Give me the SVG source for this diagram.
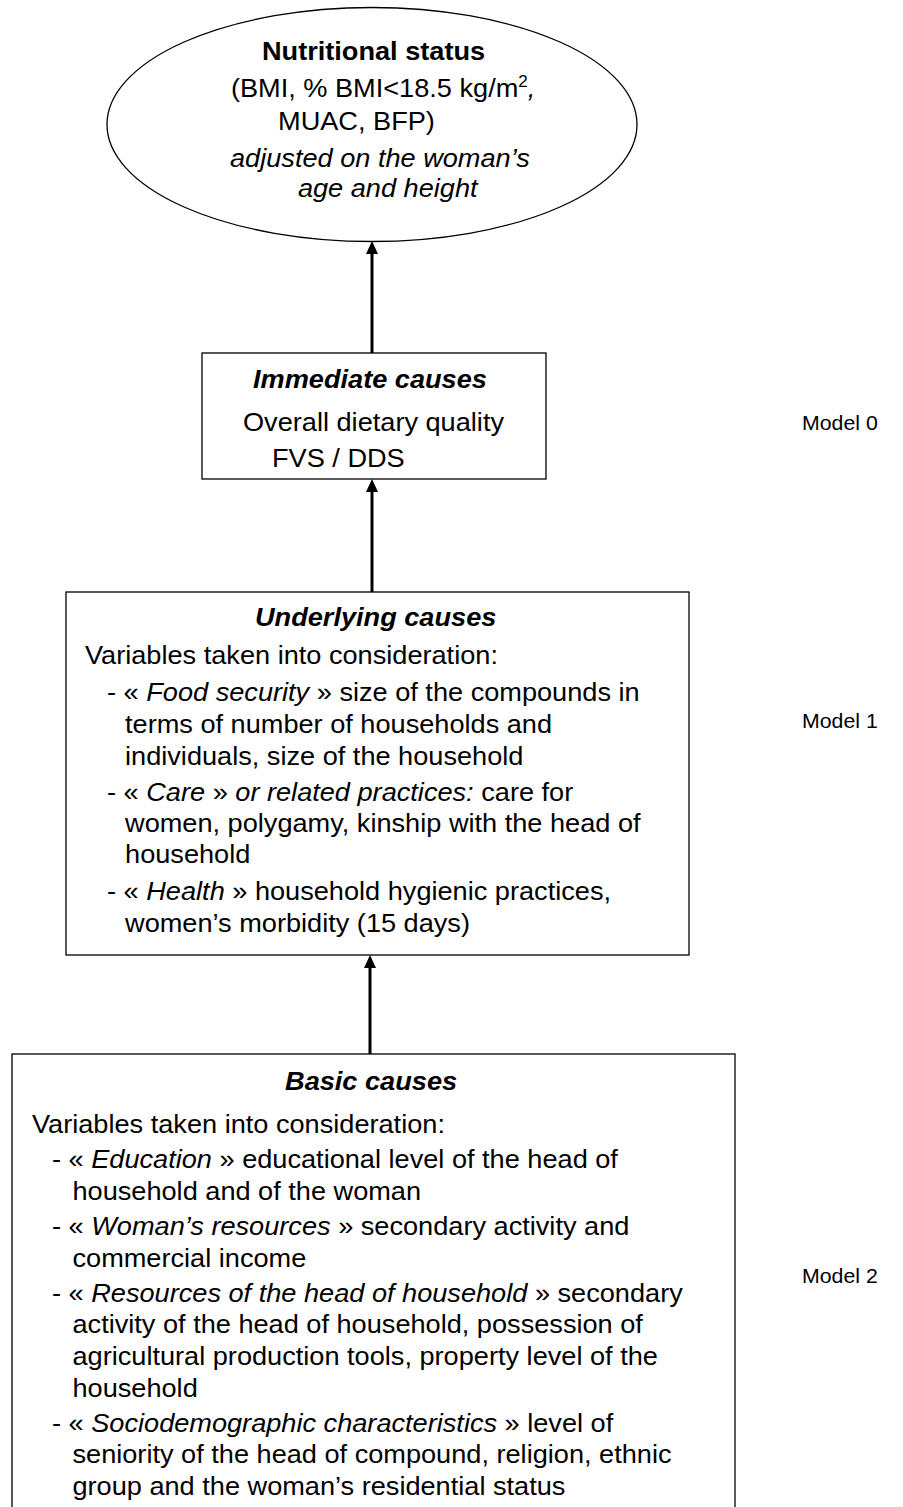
<svg xmlns="http://www.w3.org/2000/svg" width="903" height="1507" viewBox="0 0 903 1507">
<style>
.t{font-family:"Liberation Sans",Arial,Helvetica,sans-serif;font-size:25.5px;fill:#000}
.b{font-weight:bold}
.i{font-style:italic}
.bi{font-weight:bold;font-style:italic}
.m{font-size:20px}
.box{fill:#fff;stroke:#000;stroke-width:1.3}
.conn{stroke:#000;stroke-width:3;fill:none}
</style>
<defs>
<marker id="ah" markerUnits="userSpaceOnUse" markerWidth="13" markerHeight="12" refX="0" refY="6" orient="auto">
<path d="M0,0 L13,6 L0,12 z" fill="#000"/>
</marker>
</defs>
<rect width="903" height="1507" fill="#fff"/>

<g id="connectors">
<line class="conn" x1="372" y1="353" x2="372" y2="254" marker-end="url(#ah)"/>
<line class="conn" x1="372" y1="592" x2="372" y2="492" marker-end="url(#ah)"/>
<line class="conn" x1="370" y1="1054" x2="370" y2="968" marker-end="url(#ah)"/>
</g>

<g id="nutritional-status">
<ellipse cx="372" cy="124.5" rx="265" ry="117" fill="none" stroke="#000" stroke-width="1.3"/>
<g class="t" transform="translate(230 0) scale(1.065 1)">
<text class="b" x="30" y="60">Nutritional status</text>
<text x="0.9" y="97">(BMI, % BMI&lt;18.5 kg/m<tspan font-size="16" dy="-10">2</tspan><tspan class="i" dy="10">,</tspan></text>
<text x="45.1" y="130">MUAC, BFP)</text>
<text class="i" x="0" y="167">adjusted on the woman’s</text>
<text class="i" x="63.8" y="197">age and height</text>
</g>
</g>

<g id="immediate-causes">
<rect class="box" x="202" y="353" width="344" height="126"/>
<g class="t" transform="translate(243 0) scale(1.065 1)">
<text class="bi" x="9.4" y="388">Immediate causes</text>
<text x="0" y="431">Overall dietary quality</text>
<text x="27.2" y="467">FVS / DDS</text>
</g>
</g>

<g id="underlying-causes">
<rect class="box" x="66" y="592" width="623" height="363"/>
<g class="t" transform="translate(85 0) scale(1.065 1)">
<text class="bi" x="159.6" y="626">Underlying causes</text>
<text x="0" y="664">Variables taken into consideration:</text>
<text x="20.7" y="701">- « <tspan class="i">Food security</tspan> » size of the compounds in</text>
<text x="37.6" y="733">terms of number of households and</text>
<text x="37.6" y="765">individuals, size of the household</text>
<text x="20.7" y="801">- « <tspan class="i">Care</tspan> » <tspan class="i">or related practices:</tspan> care for</text>
<text x="37.6" y="832">women, polygamy, kinship with the head of</text>
<text x="37.6" y="863">household</text>
<text x="20.7" y="900">- « <tspan class="i">Health</tspan> » household hygienic practices,</text>
<text x="37.6" y="932">women’s morbidity (15 days)</text>
</g>
</g>

<g id="basic-causes">
<rect class="box" x="12" y="1054" width="723" height="460"/>
<g class="t" transform="translate(32 0) scale(1.065 1)">
<text class="bi" x="237.6" y="1090">Basic causes</text>
<text x="0" y="1133">Variables taken into consideration:</text>
<text x="18.8" y="1168">- « <tspan class="i">Education</tspan> » educational level of the head of</text>
<text x="38" y="1200">household and of the woman</text>
<text x="18.8" y="1235">- « <tspan class="i">Woman’s resources</tspan> » secondary activity and</text>
<text x="38" y="1267">commercial income</text>
<text x="18.8" y="1302">- « <tspan class="i">Resources of the head of household</tspan> » secondary</text>
<text x="38" y="1333">activity of the head of household, possession of</text>
<text x="38" y="1365">agricultural production tools, property level of the</text>
<text x="38" y="1397">household</text>
<text x="18.8" y="1432">- « <tspan class="i">Sociodemographic characteristics</tspan> » level of</text>
<text x="38" y="1463">seniority of the head of compound, religion, ethnic</text>
<text x="38" y="1495">group and the woman’s residential status</text>
</g>
</g>

<g id="model-labels" class="t m">
<g transform="translate(802 0) scale(1.065 1)">
<text x="0" y="430">Model 0</text>
<text x="0" y="728">Model 1</text>
<text x="0" y="1283">Model 2</text>
</g>
</g>
</svg>
